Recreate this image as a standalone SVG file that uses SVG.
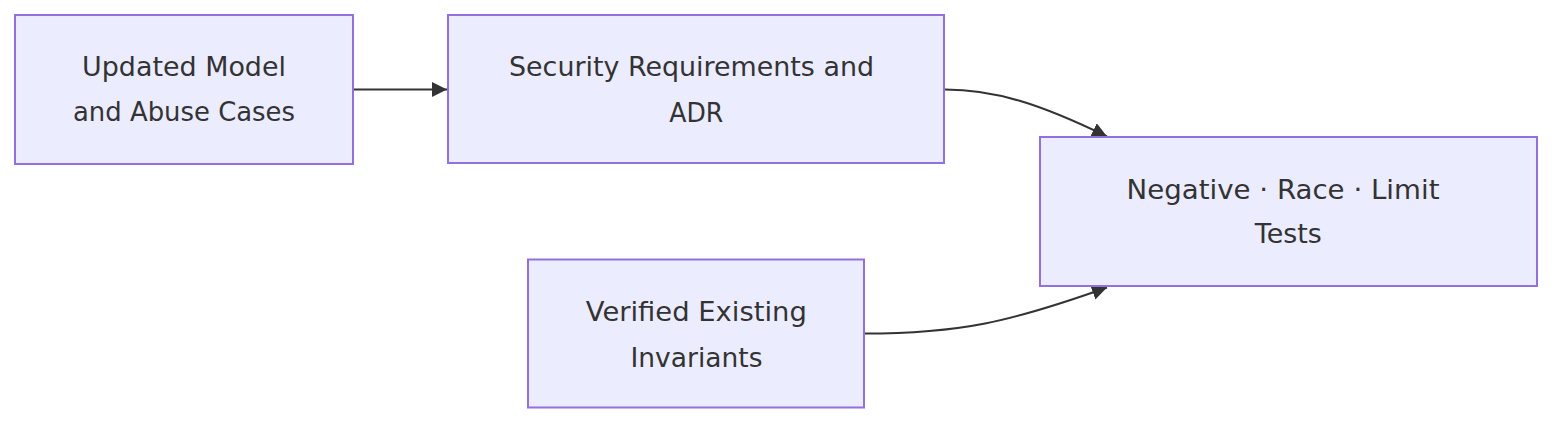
<svg xmlns="http://www.w3.org/2000/svg" width="1568" height="430" viewBox="0 0 1568 430">
<style>
.node rect{fill:#ECECFF;stroke:#9370DB;stroke-width:2}
.node text{font-family:"Trebuchet MS","DejaVu Sans",Verdana,sans-serif;font-size:27px;fill:#333333;text-anchor:middle}
.edge{fill:none;stroke:#333333;stroke-width:2}
</style>
<defs>
<marker id="arrow" viewBox="0 0 10 10" refX="10" refY="5" markerWidth="15" markerHeight="15" markerUnits="userSpaceOnUse" orient="auto">
<path d="M0,0 L10,5 L0,10 z" fill="#333333"/>
</marker>
</defs>
<rect width="1568" height="430" fill="#FFFFFF"/>
<g id="connectors">
<path class="edge" d="M353,89.5 L447,89.5" marker-end="url(#arrow)"/>
<path class="edge" d="M945,89.5 C995,89.5 1040,104 1107,136.5" marker-end="url(#arrow)"/>
<path class="edge" d="M864,333.5 C960,333.5 1010,322 1107,287.5" marker-end="url(#arrow)"/>
</g>
<g id="node-updated-model" class="node">
<rect x="15" y="15" width="338" height="149"/>
<text x="184" y="75.5" textLength="204" lengthAdjust="spacingAndGlyphs">Updated Model</text>
<text x="184" y="121" textLength="222" lengthAdjust="spacingAndGlyphs">and Abuse Cases</text>
</g>
<g id="node-security-requirements" class="node">
<rect x="448" y="15" width="496" height="148"/>
<text x="691.5" y="76" textLength="365" lengthAdjust="spacingAndGlyphs">Security Requirements and</text>
<text x="696.3" y="122" textLength="54" lengthAdjust="spacingAndGlyphs">ADR</text>
</g>
<g id="node-tests" class="node">
<rect x="1040" y="137" width="497" height="149"/>
<text x="1283" y="199" textLength="313" lengthAdjust="spacingAndGlyphs">Negative · Race · Limit</text>
<text x="1288.3" y="242.5" textLength="67" lengthAdjust="spacingAndGlyphs">Tests</text>
</g>
<g id="node-verified-invariants" class="node">
<rect x="528" y="259.5" width="336" height="148"/>
<text x="696.3" y="321" textLength="221" lengthAdjust="spacingAndGlyphs">Verified Existing</text>
<text x="696.5" y="367" textLength="132" lengthAdjust="spacingAndGlyphs">Invariants</text>
</g>
</svg>
